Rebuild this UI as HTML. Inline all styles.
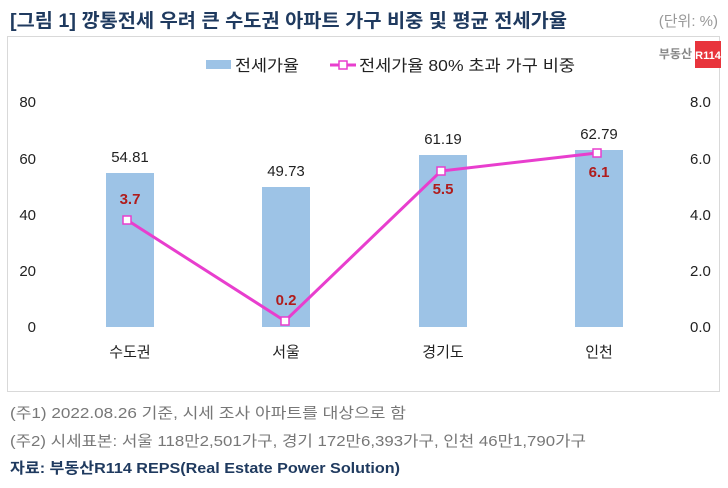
<!DOCTYPE html><html><head><meta charset="utf-8"><style>
body{margin:0;width:728px;height:483px;background:#fff;font-family:"Liberation Sans","Noto Sans CJK KR",sans-serif;overflow:hidden}
svg text{font-family:"Liberation Sans","Noto Sans CJK KR",sans-serif}
</style></head><body>
<svg width="728" height="483" xmlns="http://www.w3.org/2000/svg">
<text x="10" y="27" font-size="19" font-weight="bold" fill="#1f3a5f" textLength="557" lengthAdjust="spacingAndGlyphs">[그림 1] 깡통전세 우려 큰 수도권 아파트 가구 비중 및 평균 전세가율</text>
<text x="718" y="26" font-size="15" fill="#999" text-anchor="end">(단위: %)</text>
<rect x="7.5" y="36.5" width="712" height="355" fill="#fff" stroke="#d9d9d9"/>
<text x="692" y="58" font-size="12" font-weight="bold" fill="#888" text-anchor="end">부동산</text>
<rect x="695" y="41" width="26" height="27" fill="#e8343c"/>
<text x="708" y="59" font-size="11" font-weight="bold" fill="#fff" text-anchor="middle">R114</text>
<rect x="206" y="60" width="25" height="9" fill="#9dc3e6"/>
<text x="235" y="71" font-size="16" fill="#222" textLength="64" lengthAdjust="spacingAndGlyphs">전세가율</text>
<line x1="330" y1="65" x2="356" y2="65" stroke="#e83ece" stroke-width="3"/>
<rect x="339" y="61" width="8" height="8" fill="#fff" stroke="#e83ece" stroke-width="1.5"/>
<text x="359" y="71" font-size="16" fill="#222" textLength="216" lengthAdjust="spacingAndGlyphs">전세가율 80% 초과 가구 비중</text>
<g font-size="15" fill="#222">
<text x="36" y="107" text-anchor="end">80</text>
<text x="36" y="164" text-anchor="end">60</text>
<text x="36" y="220" text-anchor="end">40</text>
<text x="36" y="276" text-anchor="end">20</text>
<text x="36" y="332" text-anchor="end">0</text>
<text x="690" y="107">8.0</text>
<text x="690" y="164">6.0</text>
<text x="690" y="220">4.0</text>
<text x="690" y="276">2.0</text>
<text x="690" y="332">0.0</text>
</g>
<g fill="#9dc3e6">
<rect x="106" y="173" width="48" height="154"/>
<rect x="262" y="187" width="48" height="140"/>
<rect x="419" y="155" width="48" height="172"/>
<rect x="575" y="150" width="48" height="177"/>
</g>
<g font-size="15" fill="#222" text-anchor="middle">
<text x="130" y="162">54.81</text>
<text x="286" y="176">49.73</text>
<text x="443" y="144">61.19</text>
<text x="599" y="139">62.79</text>
<text x="130" y="357">수도권</text>
<text x="286" y="357">서울</text>
<text x="443" y="357">경기도</text>
<text x="599" y="357">인천</text>
</g>
<polyline points="127,220 285,321 441,171 597,153" fill="none" stroke="#e83ece" stroke-width="3"/>
<g fill="#fff" stroke="#e83ece" stroke-width="1.5">
<rect x="123" y="216" width="8" height="8"/><rect x="281" y="317" width="8" height="8"/>
<rect x="437" y="167" width="8" height="8"/><rect x="593" y="149" width="8" height="8"/>
</g>
<g font-size="15" font-weight="bold" fill="#b01c1c" text-anchor="middle">
<text x="130" y="204">3.7</text>
<text x="286" y="305">0.2</text>
<text x="443" y="194">5.5</text>
<text x="599" y="177">6.1</text>
</g>
<text x="10" y="418" font-size="15" fill="#777" textLength="396" lengthAdjust="spacingAndGlyphs">(주1) 2022.08.26 기준, 시세 조사 아파트를 대상으로 함</text>
<text x="10" y="446" font-size="15" fill="#777" textLength="576" lengthAdjust="spacingAndGlyphs">(주2) 시세표본: 서울 118만2,501가구, 경기 172만6,393가구, 인천 46만1,790가구</text>
<text x="10" y="473" font-size="15" font-weight="bold" fill="#1f3a5f" textLength="390" lengthAdjust="spacingAndGlyphs">자료: 부동산R114 REPS(Real Estate Power Solution)</text>
</svg>
</body></html>
